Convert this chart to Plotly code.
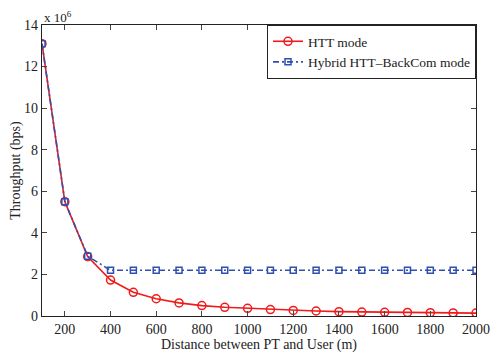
import plotly.graph_objects as go

distance = [100, 200, 300, 400, 500, 600, 700, 800, 900, 1000,
            1100, 1200, 1300, 1400, 1500, 1600, 1700, 1800, 1900, 2000]
htt = [13.1, 5.5, 2.86, 1.73, 1.14, 0.83, 0.63, 0.50, 0.42, 0.37,
       0.31, 0.27, 0.24, 0.21, 0.19, 0.18, 0.17, 0.16, 0.15, 0.14]
hybrid = [13.1, 5.5, 2.88, 2.2, 2.2, 2.2, 2.2, 2.2, 2.2, 2.2,
          2.2, 2.2, 2.2, 2.2, 2.2, 2.2, 2.2, 2.2, 2.2, 2.2]
scale = 1e6
x_ticks = list(range(200, 2001, 200))
y_ticks = [0, 2, 4, 6, 8, 10, 12, 14]

FONT = "Liberation Serif, Times New Roman, Times, serif"

fig = go.Figure()
fig.add_trace(go.Scatter(
    x=distance, y=[v * scale for v in htt], name="HTT mode",
    mode="lines+markers",
    line=dict(color="#f01a1a", width=1.6),
    marker=dict(symbol="circle-open", size=8, color="#f01a1a", line=dict(width=1.5)),
))
fig.add_trace(go.Scatter(
    x=distance, y=[v * scale for v in hybrid], name="Hybrid HTT\u2013BackCom mode",
    mode="lines+markers",
    line=dict(color="#2f50b0", width=1.6, dash="6px,3px,2px,3px"),
    marker=dict(symbol="square-open", size=6, color="#2f50b0", line=dict(width=1.5)),
))

fig.update_layout(
    width=491, height=354,
    margin=dict(l=42, r=15, t=25, b=38, autoexpand=False),
    paper_bgcolor="white", plot_bgcolor="white",
    font=dict(family=FONT, size=13, color="#222"),
    showlegend=True,
    legend=dict(x=1, y=1, xanchor="right", yanchor="top",
                bgcolor="white", bordercolor="#222", borderwidth=1,
                font=dict(family=FONT, size=13.5), itemwidth=30,
                tracegroupgap=0),
    xaxis=dict(range=[100, 2000], tickvals=x_ticks, ticks="inside", ticklen=5,
               showline=True, linecolor="#222", linewidth=1.2, mirror="ticks",
               showgrid=False, zeroline=False, tickfont=dict(size=14),
               automargin=False,
               title=dict(text="Distance between PT and User (m)", standoff=0,
                          font=dict(size=14))),
    yaxis=dict(range=[0, 14e6], tickvals=[v * scale for v in y_ticks],
               ticktext=[str(v) for v in y_ticks], ticks="inside", ticklen=5,
               showline=True, linecolor="#222", linewidth=1.2, mirror="ticks",
               showgrid=False, zeroline=False, tickfont=dict(size=14),
               automargin=False,
               title=dict(text="Throughput (bps)", standoff=0, font=dict(size=14))),
    annotations=[dict(text="x 10<sup>6</sup>", xref="paper", yref="paper",
                      x=0, y=1, xanchor="left", yanchor="bottom", showarrow=False,
                      font=dict(family=FONT, size=13), yshift=-2)],
)

fig.write_html("out.html")
